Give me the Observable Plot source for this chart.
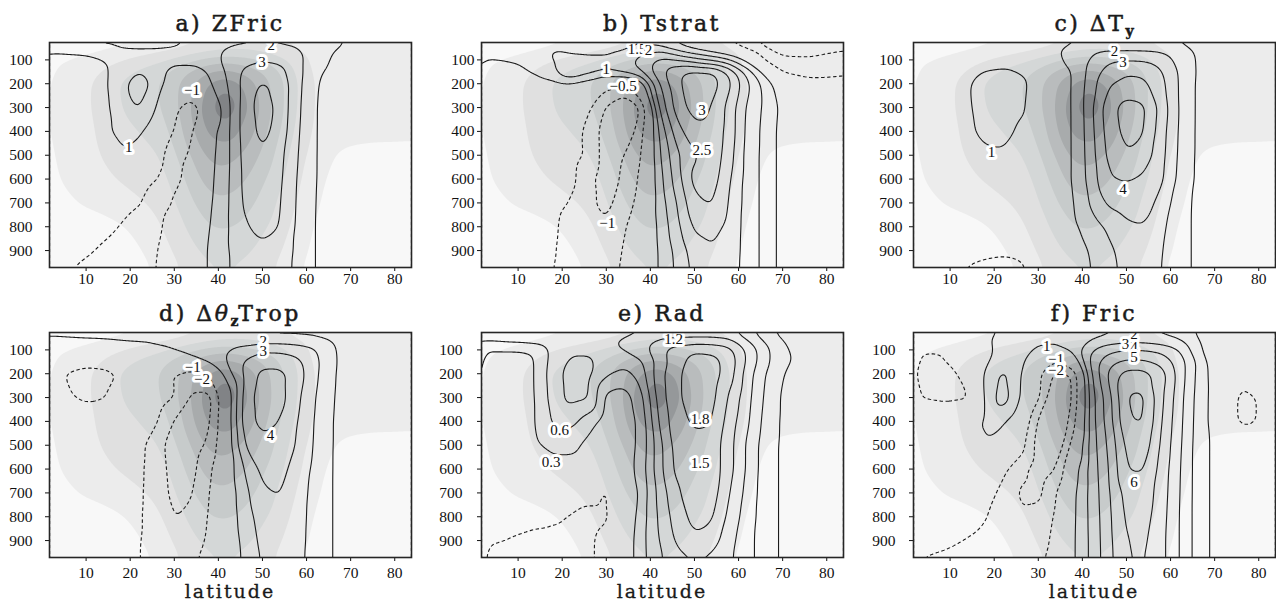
<!DOCTYPE html>
<html><head><meta charset="utf-8">
<script src="https://cdn.jsdelivr.net/npm/d3@7"></script>
<script src="https://cdn.jsdelivr.net/npm/@observablehq/plot@0.6"></script>
<style>
html,body{margin:0;padding:0;background:#fff;overflow:hidden;}
#wrap{position:relative;width:1276px;height:601px;overflow:hidden;background:#fff;}
.panel{position:absolute;}
.title{position:absolute;width:362px;text-align:center;font-family:"DejaVu Serif",serif;font-size:22px;line-height:24px;letter-spacing:2.5px;color:#1a1a1a;white-space:nowrap;-webkit-text-stroke:0.5px #1a1a1a;}
.title .sub{font-size:14px;font-weight:bold;position:relative;top:5px;letter-spacing:0;}
.title i{font-style:italic;}
.xlab{position:absolute;width:362px;text-align:center;font-family:"DejaVu Serif",serif;font-size:19px;line-height:19px;letter-spacing:2px;color:#1a1a1a;-webkit-text-stroke:0.3px #1a1a1a;}
</style></head>
<body><div id="wrap"></div>
<script>
// ---------- grid axes ----------
const lats = [2, 6, 10, 14, 18, 22, 26, 30, 34, 38, 42, 46, 50, 54, 58, 62, 66, 70, 76, 84];
const levels = [27, 60, 100, 150, 200, 300, 400, 500, 600, 700, 800, 900, 971];
const latTicks = [10, 20, 30, 40, 50, 60, 70, 80];
const pTicks = [100, 200, 300, 400, 500, 600, 700, 800, 900];

// ---------- shaded background jet (shading level units) ----------
const jetThresholds = [1, 2, 3, 4, 5, 6, 7, 8];
const jetField = [
  [0.6, 0.6, 0.6, 0.7, 0.8, 0.9, 1.1, 1.3, 1.6, 1.9, 2.1, 2.2, 2.1, 1.9, 1.6, 1.4, 1.3, 1.3, 1.3, 1.3],
  [0.7, 0.7, 0.8, 0.9, 1.1, 1.4, 1.7, 2.0, 2.4, 2.8, 3.0, 3.0, 2.8, 2.5, 2.1, 1.6, 1.4, 1.3, 1.3, 1.3],
  [0.9, 1.0, 1.2, 1.6, 2.0, 2.4, 2.8, 3.3, 3.9, 4.4, 4.6, 4.4, 3.9, 3.2, 2.5, 1.7, 1.4, 1.3, 1.3, 1.3],
  [1.0, 1.2, 1.6, 2.1, 2.7, 3.2, 3.6, 4.3, 5.2, 6.0, 6.3, 5.8, 5.0, 4.0, 2.8, 1.8, 1.4, 1.3, 1.3, 1.3],
  [1.1, 1.3, 1.8, 2.5, 3.1, 3.5, 3.9, 4.7, 5.9, 7.2, 7.8, 6.8, 5.6, 4.3, 3.0, 1.9, 1.4, 1.3, 1.3, 1.3],
  [1.1, 1.3, 1.8, 2.5, 3.0, 3.4, 3.8, 4.7, 6.1, 7.9, 8.9, 7.3, 5.8, 4.3, 2.9, 1.9, 1.4, 1.3, 1.3, 1.3],
  [1.1, 1.3, 1.7, 2.3, 2.7, 3.0, 3.4, 4.3, 5.8, 7.3, 7.7, 6.7, 5.4, 4.0, 2.7, 1.8, 1.4, 1.3, 1.25, 1.2],
  [1.0, 1.2, 1.6, 2.1, 2.4, 2.6, 2.9, 3.8, 5.1, 6.3, 6.4, 5.8, 4.8, 3.6, 2.4, 1.6, 1.0, 0.8, 0.7, 0.7],
  [0.9, 1.1, 1.4, 1.8, 2.1, 2.3, 2.5, 3.3, 4.5, 5.5, 5.6, 5.1, 4.2, 3.2, 2.2, 1.3, 0.8, 0.6, 0.5, 0.5],
  [0.8, 0.9, 1.1, 1.3, 1.6, 1.9, 2.2, 2.9, 3.9, 4.7, 4.8, 4.4, 3.7, 2.8, 1.9, 1.1, 0.7, 0.5, 0.4, 0.4],
  [0.5, 0.5, 0.6, 0.7, 0.9, 1.3, 1.8, 2.5, 3.3, 4.0, 4.1, 3.8, 3.2, 2.5, 1.6, 0.9, 0.6, 0.4, 0.3, 0.3],
  [0.4, 0.4, 0.4, 0.5, 0.6, 0.9, 1.4, 2.1, 2.8, 3.3, 3.4, 3.2, 2.7, 2.1, 1.3, 0.8, 0.5, 0.4, 0.3, 0.3],
  [0.3, 0.3, 0.3, 0.4, 0.5, 0.7, 1.1, 1.8, 2.4, 2.9, 3.0, 2.8, 2.4, 1.8, 1.1, 0.7, 0.5, 0.4, 0.3, 0.3]
];

// ---------- contour-line fields (rows = levels, cols = lats) ----------
const fieldA = [
  [2.0, 2.2, 2.3, 2.4, 2.4, 2.4, 2.3, 2.2, 1.9, 1.8, 1.8, 1.85, 1.9, 1.85, 1.8, 1.6, 1.2, 0.9, 0.7, 0.6],
  [1.0, 1.05, 1.1, 1.3, 1.85, 1.9, 1.95, 1.9, 1.75, 1.85, 2.1, 2.25, 2.3, 2.25, 2.1, 1.5, 1.0, 0.8, 0.7, 0.6],
  [0.75, 0.8, 0.85, 0.97, 1.3, 1.5, 1.4, 1.3, 1.4, 1.7, 2.2, 2.7, 2.95, 2.8, 2.3, 1.4, 0.9, 0.7, 0.6, 0.5],
  [0.6, 0.65, 0.75, 0.85, 1.45, 2.0, 1.3, 0.6, 0.5, 1.15, 2.1, 3.2, 3.5, 3.3, 2.4, 1.15, 0.8, 0.6, 0.5, 0.4],
  [0.4, 0.5, 0.7, 0.8, 1.7, 2.6, 1.6, 0.1, -0.3, 0.9, 1.95, 3.4, 4.15, 3.7, 2.3, 1.05, 0.7, 0.5, 0.4, 0.3],
  [0.3, 0.4, 0.6, 0.75, 1.5, 2.1, 1.0, -0.85, -1.4, -0.4, 1.7, 3.5, 4.5, 3.7, 2.2, 1.0, 0.6, 0.45, 0.3, 0.2],
  [0.3, 0.4, 0.5, 0.8, 1.25, 1.2, 0.3, -1.2, -1.2, 0.5, 1.75, 3.5, 4.3, 3.6, 2.1, 1.0, 0.6, 0.4, 0.2, 0.1],
  [0.3, 0.3, 0.2, 0.3, 0.9, 0.6, -0.8, -1.3, -0.9, 0.65, 1.75, 3.4, 3.95, 3.3, 2.0, 1.0, 0.6, 0.4, 0.2, 0.1],
  [0.2, 0.1, -0.1, -0.3, -0.5, -0.75, -1.05, -1.3, -0.6, 0.75, 1.8, 3.3, 3.8, 3.2, 1.9, 1.0, 0.6, 0.4, 0.2, 0.1],
  [0.1, -0.1, -0.3, -0.5, -0.75, -0.97, -1.3, -1.0, -0.1, 0.85, 1.85, 3.2, 3.6, 3.1, 1.85, 0.97, 0.6, 0.4, 0.2, 0.1],
  [-0.1, -0.3, -0.5, -0.75, -1.05, -1.3, -1.2, -0.6, 0.2, 0.97, 1.9, 2.9, 3.3, 3.0, 1.8, 0.95, 0.6, 0.4, 0.2, 0.1],
  [-0.3, -0.6, -0.85, -1.15, -1.4, -1.35, -1.05, -0.5, 0.3, 1.1, 1.95, 2.5, 2.8, 2.6, 1.8, 0.95, 0.6, 0.4, 0.2, 0.1],
  [-0.6, -0.95, -1.2, -1.3, -1.4, -1.3, -1.0, -0.5, 0.3, 1.1, 1.95, 2.4, 2.6, 2.4, 1.8, 0.95, 0.6, 0.4, 0.2, 0.1]
];
const fieldB = [
  [0.55, 0.6, 0.6, 0.6, 0.6, 0.6, 0.65, 0.7, 0.8, 0.9, 0.6, 0.3, 0.0, -0.3, -0.6, -0.9, -1.2, -1.4, -1.5, -1.3],
  [0.6, 0.65, 0.7, 0.8, 1.1, 0.9, 0.85, 0.9, 1.0, 1.3, 1.5, 1.0, 0.6, 0.3, 0.0, -0.4, -0.85, -1.15, -1.2, -1.0],
  [0.5, 0.5, 0.55, 0.7, 1.0, 1.2, 1.15, 1.1, 1.3, 1.7, 2.1, 2.0, 1.7, 1.4, 1.0, 0.3, -0.6, -0.9, -0.9, -0.7],
  [0.3, 0.35, 0.4, 0.6, 0.95, 1.6, 1.2, 1.0, 1.2, 1.55, 2.3, 2.9, 3.15, 3.1, 2.4, 1.3, 0.3, -0.55, -0.7, -0.6],
  [0.1, 0.1, 0.1, 0.2, 0.3, 0.4, 0.2, -0.3, -0.45, 0.2, 2.0, 2.9, 3.3, 3.25, 2.6, 1.6, 0.8, 0.1, -0.3, -0.3],
  [0.1, 0.05, 0.0, -0.05, -0.1, -0.2, -0.4, -1.05, -1.55, -1.0, 1.6, 2.75, 3.2, 3.0, 2.3, 1.4, 0.9, 0.35, 0.1, 0.0],
  [0.05, 0.0, -0.05, -0.1, -0.15, -0.3, -0.6, -1.3, -1.45, -0.7, 1.1, 2.3, 2.85, 2.85, 2.3, 1.35, 0.85, 0.3, 0.1, 0.0],
  [0.0, -0.05, -0.1, -0.15, -0.25, -0.35, -0.55, -1.3, -1.0, -0.55, 0.95, 1.9, 2.45, 2.85, 2.2, 1.3, 0.85, 0.3, 0.1, 0.0],
  [0.0, -0.05, -0.1, -0.2, -0.3, -0.35, -0.85, -1.3, -0.9, -0.4, 0.8, 1.75, 2.7, 2.75, 2.05, 1.3, 0.85, 0.3, 0.1, 0.0],
  [0.0, -0.05, -0.1, -0.2, -0.35, -0.52, -0.9, -1.15, -0.75, -0.3, 0.7, 1.5, 2.4, 2.55, 1.95, 1.3, 0.85, 0.3, 0.1, 0.0],
  [0.0, -0.05, -0.15, -0.25, -0.4, -0.75, -0.95, -0.95, -0.55, -0.15, 0.6, 1.35, 2.1, 2.2, 1.85, 1.3, 0.85, 0.3, 0.1, 0.0],
  [0.0, -0.05, -0.15, -0.3, -0.45, -0.75, -0.9, -0.85, -0.45, -0.1, 0.55, 1.15, 1.75, 1.95, 1.8, 1.3, 0.85, 0.3, 0.1, 0.0],
  [0.0, -0.05, -0.15, -0.3, -0.5, -0.7, -0.8, -0.75, -0.4, -0.1, 0.55, 1.1, 1.65, 1.85, 1.75, 1.3, 0.85, 0.3, 0.1, 0.0]
];
const fieldC = [
  [0.5, 0.5, 0.55, 0.6, 0.65, 0.7, 0.75, 0.8, 0.85, 0.9, 0.95, 0.95, 0.95, 0.95, 0.95, 0.9, 0.8, 0.7, 0.6, 0.5],
  [0.5, 0.55, 0.6, 0.65, 0.7, 0.75, 0.8, 0.85, 0.95, 1.3, 1.8, 2.05, 2.05, 2.0, 1.9, 1.4, 0.85, 0.7, 0.6, 0.5],
  [0.5, 0.6, 0.7, 0.75, 0.8, 0.8, 0.8, 0.8, 0.85, 1.2, 2.1, 2.8, 2.95, 2.9, 2.5, 1.7, 0.9, 0.7, 0.55, 0.45],
  [0.45, 0.55, 0.75, 0.9, 1.02, 1.08, 0.95, 0.75, 0.8, 0.95, 2.4, 3.4, 3.9, 3.8, 3.1, 1.9, 0.9, 0.65, 0.5, 0.4],
  [0.4, 0.5, 0.7, 0.95, 1.2, 1.3, 1.15, 0.75, 0.8, 0.95, 2.6, 3.9, 4.3, 4.2, 3.3, 1.9, 0.85, 0.6, 0.45, 0.35],
  [0.35, 0.45, 0.65, 0.9, 1.3, 1.4, 1.1, 0.7, 0.8, 0.95, 2.8, 4.65, 5.4, 5.2, 3.6, 1.9, 0.85, 0.55, 0.4, 0.3],
  [0.3, 0.4, 0.6, 0.85, 1.2, 1.25, 0.85, 0.7, 0.8, 0.95, 2.7, 4.5, 5.3, 5.1, 3.4, 1.85, 0.85, 0.5, 0.35, 0.25],
  [0.2, 0.3, 0.4, 0.55, 0.85, 0.9, 0.8, 0.7, 0.8, 0.95, 2.6, 4.3, 4.95, 4.6, 3.3, 1.8, 0.85, 0.5, 0.3, 0.2],
  [0.2, 0.25, 0.3, 0.35, 0.4, 0.5, 0.6, 0.7, 0.85, 0.95, 2.5, 3.95, 4.1, 3.8, 3.2, 1.7, 0.85, 0.5, 0.3, 0.2],
  [0.1, 0.1, 0.1, 0.1, 0.1, 0.15, 0.2, 0.3, 0.6, 0.9, 2.15, 3.2, 3.5, 3.5, 2.6, 1.45, 0.8, 0.5, 0.3, 0.2],
  [0.0, -0.1, -0.2, -0.3, -0.4, -0.4, -0.3, -0.1, 0.3, 0.8, 1.5, 2.2, 2.8, 2.95, 2.2, 1.4, 0.8, 0.5, 0.3, 0.2],
  [-0.2, -0.4, -0.6, -0.75, -0.85, -0.9, -0.85, -0.6, -0.1, 0.5, 1.1, 1.8, 2.4, 2.6, 2.05, 1.4, 0.8, 0.5, 0.3, 0.2],
  [-0.3, -0.6, -0.9, -1.05, -1.15, -1.2, -1.1, -0.8, -0.3, 0.4, 1.0, 1.7, 2.3, 2.5, 2.0, 1.4, 0.8, 0.5, 0.3, 0.2]
];
const fieldD = [
  [1.25, 1.3, 1.35, 1.35, 1.35, 1.3, 1.25, 1.15, 1.05, 0.95, 0.85, 0.75, 0.7, 0.7, 0.7, 0.65, 0.55, 0.45, 0.3, 0.2],
  [0.8, 0.85, 0.9, 0.95, 1.05, 1.1, 1.15, 1.2, 1.25, 1.3, 1.35, 1.45, 1.5, 1.5, 1.45, 1.35, 0.95, 0.5, 0.3, 0.2],
  [0.1, 0.15, 0.2, 0.3, 0.45, 0.6, 0.85, 1.05, 1.3, 1.6, 1.95, 2.4, 2.9, 2.85, 2.55, 2.1, 1.1, 0.5, 0.3, 0.2],
  [-0.2, -0.4, -0.6, -0.5, -0.2, 0.0, 0.1, 0.3, 0.7, 1.3, 2.0, 3.1, 3.6, 3.6, 3.3, 2.3, 1.1, 0.6, 0.3, 0.2],
  [-0.5, -1.15, -1.45, -1.35, -0.9, -0.4, -0.5, -1.05, -1.7, -1.0, 1.6, 3.2, 4.3, 4.3, 3.5, 2.2, 1.05, 0.6, 0.3, 0.2],
  [-0.3, -0.9, -1.2, -1.05, -0.5, -0.3, -0.5, -0.95, -2.2, -2.4, 0.2, 3.5, 4.5, 4.4, 3.2, 2.0, 1.0, 0.6, 0.3, 0.2],
  [0.0, -0.1, -0.2, -0.3, -0.4, -0.6, -0.85, -2.1, -2.6, -2.2, 0.3, 3.6, 4.3, 4.0, 3.0, 1.9, 0.95, 0.6, 0.3, 0.2],
  [0.0, -0.1, -0.2, -0.35, -0.5, -0.7, -1.6, -2.5, -2.45, -1.8, 0.3, 3.1, 3.75, 3.65, 2.9, 1.85, 0.95, 0.6, 0.3, 0.2],
  [-0.05, -0.15, -0.3, -0.45, -0.6, -0.8, -1.5, -2.4, -2.3, -1.2, 0.3, 2.1, 3.3, 3.3, 2.6, 1.75, 0.95, 0.6, 0.3, 0.2],
  [-0.1, -0.25, -0.4, -0.55, -0.7, -0.85, -1.45, -2.3, -2.1, -1.0, 0.25, 1.7, 2.9, 3.05, 2.4, 1.7, 0.95, 0.6, 0.3, 0.2],
  [-0.15, -0.3, -0.45, -0.6, -0.75, -0.9, -1.4, -2.05, -1.8, -0.9, 0.3, 1.5, 2.5, 2.75, 2.3, 1.7, 0.95, 0.6, 0.3, 0.2],
  [-0.2, -0.35, -0.5, -0.65, -0.8, -0.95, -1.3, -1.6, -1.5, -0.8, 0.3, 1.3, 2.3, 2.6, 2.25, 1.7, 0.95, 0.6, 0.3, 0.2],
  [-0.2, -0.35, -0.5, -0.7, -0.85, -0.97, -1.2, -1.3, -1.2, -0.6, 0.3, 1.2, 2.15, 2.5, 2.2, 1.7, 0.95, 0.6, 0.3, 0.2]
];
const fieldE = [
  [0.85, 0.85, 0.85, 0.85, 0.85, 0.8, 0.75, 0.7, 0.75, 0.85, 0.95, 1.0, 1.0, 1.0, 0.95, 0.7, 0.4, 0.2, 0.1, 0.05],
  [0.6, 0.65, 0.7, 0.75, 0.8, 0.8, 0.8, 0.85, 1.0, 1.15, 1.25, 1.3, 1.3, 1.3, 1.25, 0.9, 0.55, 0.3, 0.15, 0.1],
  [0.3, 0.3, 0.3, 0.35, 0.7, 0.85, 0.85, 0.8, 0.9, 1.1, 1.4, 1.65, 1.8, 1.75, 1.6, 1.15, 0.7, 0.35, 0.15, 0.1],
  [0.15, 0.15, 0.15, 0.3, 0.75, 0.95, 0.95, 0.75, 0.7, 0.85, 1.3, 1.7, 1.9, 1.9, 1.7, 1.15, 0.7, 0.35, 0.2, 0.1],
  [0.1, 0.1, 0.15, 0.3, 0.8, 1.0, 0.98, 0.65, 0.5, 0.75, 1.4, 1.75, 1.95, 1.95, 1.65, 1.05, 0.6, 0.3, 0.15, 0.1],
  [0.05, 0.05, 0.1, 0.3, 0.75, 1.0, 0.95, 0.2, 0.15, 0.5, 1.35, 1.75, 1.95, 1.9, 1.45, 1.0, 0.55, 0.25, 0.15, 0.1],
  [0.05, 0.05, 0.1, 0.3, 0.65, 0.7, 0.45, 0.15, 0.1, 0.4, 1.25, 1.7, 1.85, 1.82, 1.35, 0.95, 0.5, 0.25, 0.15, 0.1],
  [0.0, 0.05, 0.1, 0.25, 0.4, 0.4, 0.2, 0.05, 0.1, 0.4, 1.1, 1.65, 1.72, 1.68, 1.3, 0.85, 0.45, 0.25, 0.15, 0.1],
  [0.05, 0.05, 0.05, 0.1, 0.15, 0.15, 0.1, 0.0, 0.1, 0.45, 1.1, 1.6, 1.72, 1.68, 1.3, 0.85, 0.45, 0.25, 0.15, 0.1],
  [0.0, 0.0, -0.05, -0.05, -0.1, -0.15, -0.2, -0.35, -0.1, 0.4, 1.0, 1.45, 1.7, 1.65, 1.2, 0.8, 0.45, 0.25, 0.15, 0.1],
  [-0.05, -0.1, -0.15, -0.2, -0.25, -0.32, -0.4, -0.35, 0.0, 0.45, 0.95, 1.35, 1.6, 1.55, 1.1, 0.75, 0.45, 0.25, 0.15, 0.1],
  [-0.2, -0.28, -0.35, -0.4, -0.4, -0.4, -0.35, -0.2, 0.05, 0.5, 0.9, 1.25, 1.45, 1.35, 1.0, 0.7, 0.45, 0.25, 0.15, 0.1],
  [-0.5, -0.5, -0.5, -0.45, -0.4, -0.4, -0.35, -0.2, 0.05, 0.5, 0.85, 1.1, 1.2, 1.15, 0.95, 0.7, 0.45, 0.25, 0.15, 0.1]
];
const fieldF = [
  [0.3, 0.3, 0.4, 0.6, 0.9, 1.05, 1.1, 1.1, 1.1, 1.2, 1.5, 1.8, 1.9, 1.9, 1.8, 1.5, 0.9, 0.3, 0.0, 0.0],
  [0.2, 0.1, 0.2, 0.5, 0.95, 1.1, 1.3, 1.2, 1.15, 1.4, 2.0, 2.4, 2.6, 2.6, 2.4, 2.1, 1.1, 0.3, 0.0, 0.0],
  [-0.8, -1.05, -1.0, -0.4, 0.7, 1.3, 1.3, 0.85, 0.8, 1.4, 2.9, 3.7, 4.05, 4.0, 3.7, 3.0, 1.3, 0.3, 0.0, 0.0],
  [-1.1, -1.15, -0.9, -0.2, 0.9, 1.4, 1.2, 0.2, -1.2, 0.0, 3.3, 4.6, 5.2, 5.15, 4.7, 3.6, 1.9, 0.35, -0.2, -0.1],
  [-1.4, -1.45, -1.3, -0.5, 1.2, 2.3, 1.1, -0.8, -2.3, -2.0, 3.0, 5.2, 6.4, 6.4, 5.5, 3.6, 1.8, 0.5, -0.6, -0.3],
  [-0.95, -1.15, -1.3, -1.2, 1.2, 2.6, 1.0, -0.8, -3.2, -2.0, 2.6, 4.6, 7.1, 7.2, 5.2, 3.4, 1.7, 0.6, -1.3, -0.6],
  [0.0, 0.1, 0.4, 0.75, 1.15, 1.15, 0.2, -2.2, -3.1, -1.5, 2.6, 4.5, 6.9, 7.1, 5.0, 3.3, 1.65, 0.6, -1.3, -0.6],
  [-0.05, 0.0, 0.1, 0.4, 0.95, 0.6, -0.5, -2.5, -2.95, -0.5, 2.5, 4.2, 6.3, 6.6, 4.8, 3.2, 1.6, 0.75, 0.3, 0.1],
  [-0.1, -0.15, -0.25, -0.35, -0.5, -0.75, -1.7, -2.5, -2.1, 0.5, 2.4, 4.0, 6.05, 6.1, 4.6, 3.1, 1.6, 0.75, 0.3, 0.1],
  [-0.2, -0.25, -0.35, -0.5, -0.75, -1.15, -2.2, -2.3, -1.1, 0.8, 2.3, 3.9, 5.4, 5.6, 4.5, 3.05, 1.6, 0.75, 0.3, 0.1],
  [-0.3, -0.4, -0.5, -0.65, -0.95, -1.4, -1.95, -1.7, -0.9, 0.85, 2.25, 3.8, 5.2, 5.4, 4.4, 3.0, 1.6, 0.75, 0.3, 0.1],
  [-0.6, -0.7, -0.85, -1.05, -1.25, -1.45, -1.7, -1.5, -0.7, 0.9, 2.2, 3.75, 5.0, 5.2, 4.3, 3.0, 1.6, 0.75, 0.3, 0.1],
  [-1.0, -1.1, -1.2, -1.3, -1.4, -1.5, -1.5, -1.2, -0.6, 0.9, 2.2, 3.7, 4.95, 5.1, 4.3, 3.0, 1.6, 0.75, 0.3, 0.1]
];

// ---------- contour levels ----------
const levelsA = [-2, -1, 1, 2, 3, 4];
const levelsB = [-1.5, -1, -0.5, 0.5, 1, 1.5, 2, 2.5, 3, 3.5];
const levelsC = [-1, 1, 2, 3, 4, 5];
const levelsD = [-3, -2, -1, 1, 2, 3, 4, 5];
const levelsE = [-0.6, -0.3, 0.3, 0.6, 0.9, 1.2, 1.5, 1.8, 2.1];
const levelsF = [-3, -2, -1, 1, 2, 3, 4, 5, 6, 7];

// ---------- contour labels: latitude, pressure, text ----------
const labelsA = [[52, 40, "2"], [49.9, 109, "3"], [34, 228, "−1"], [19.7, 466, "1"]];
const labelsB = [[37.0, 54, "1.5"], [39.6, 60, "2"], [30, 140, "1"], [33.8, 210, "−0.5"], [51.7, 312, "3"], [51.7, 480, "2.5"], [30.2, 787, "−1"]];
const labelsC = [[47.1, 28, "1"], [47.3, 62, "2"], [49.2, 109, "3"], [19.4, 487, "1"], [49.2, 641, "4"]];
const labelsD = [[50.2, 62, "2"], [50.2, 104, "3"], [34.2, 173, "−1"], [36.3, 222, "−2"], [51.8, 458, "4"]];
const labelsE = [[45.3, 55, "1.2"], [19.4, 438, "0.6"], [17.5, 570, "0.3"], [51.3, 389, "1.8"], [51.3, 577, "1.5"]];
const labelsF = [[31.9, 83, "1"], [34, 138, "−1"], [34, 184, "−2"], [51.7, 36, "2"], [49.8, 76, "3"], [51.7, 90, "4"], [51.7, 130, "5"], [51.7, 653, "6"]];

// ---------- titles ----------
const titleTexts = ["a) ZFric", "b) Tstrat", "c) ΔT|y", "d) Δθ|zTrop", "e) Rad", "f) Fric"];
const xAxisLabel = "latitude";

// ---------- build ----------
function toPoints(field) {
  const out = [];
  field.forEach((row, j) => row.forEach((v, i) => out.push({lat: lats[i], p: levels[j], v})));
  return out;
}
function toLabels(arr) { return arr.map(([lat, p, t]) => ({lat, p, t})); }

const jetPts = toPoints(jetField);
const jetColors = ["#ececec", "#e0e0e0", "#d4d7d7", "#c7cbcb", "#b9bcbd", "#a8abac", "#95989a", "#818386"];

const panels = [
  {field: fieldA, lv: levelsA, labels: labelsA, fx: 49, fy: 42, ypad: 13, xpad: 1},
  {field: fieldB, lv: levelsB, labels: labelsB, fx: 481, fy: 42, ypad: 3, xpad: 1},
  {field: fieldC, lv: levelsC, labels: labelsC, fx: 913, fy: 42, ypad: 7, xpad: 1},
  {field: fieldD, lv: levelsD, labels: labelsD, fx: 49, fy: 332, ypad: 13, xpad: 5},
  {field: fieldE, lv: levelsE, labels: labelsE, fx: 481, fy: 332, ypad: 15, xpad: 5},
  {field: fieldF, lv: levelsF, labels: labelsF, fx: 913, fy: 332, ypad: 14, xpad: 5}
];

const wrap = document.getElementById("wrap");
const ML = 50, MR = 4, MT = 4, MB = 28, FW = 362, FH = 225;

function titleHTML(s) {
  let html = "";
  for (let i = 0; i < s.length; i++) {
    const ch = s[i];
    if (ch === "|") { html += `<span class="sub">${s[i + 1]}</span>`; i++; }
    else if (ch === "θ") html += "<i>θ</i>";
    else html += ch;
  }
  return html;
}

panels.forEach((cfg, k) => {
  const pts = toPoints(cfg.field);
  const pos = cfg.lv.filter(d => d > 0);
  const neg = cfg.lv.filter(d => d < 0);
  const svg = Plot.plot({
    width: ML + FW + MR,
    height: MT + FH + MB,
    marginLeft: ML, marginRight: MR, marginTop: MT, marginBottom: MB,
    x: {domain: [1.7, 83.8], ticks: latTicks, tickSize: 4, tickPadding: cfg.xpad, label: null, tickFormat: d => String(d)},
    y: {domain: [27, 971], reverse: true, ticks: pTicks, tickSize: 4, tickPadding: cfg.ypad, label: null, tickFormat: d => String(d)},
    color: {type: "ordinal", domain: jetThresholds, range: jetColors},
    style: {fontFamily: '"Liberation Serif", serif', fontSize: "15.5px", color: "#111", background: "transparent"},
    marks: [
      Plot.frame({fill: "#f8f8f8", stroke: "none"}),
      Plot.contour(jetPts, {x: "lat", y: "p", fill: "v", thresholds: jetThresholds, interpolate: "barycentric", pixelSize: 1, blur: 6, stroke: "none", clip: true}),
      Plot.contour(pts, {x: "lat", y: "p", value: "v", thresholds: pos, interpolate: "barycentric", pixelSize: 1, blur: 4, fill: "none", stroke: "#1b1b1b", strokeWidth: 1.1, clip: true}),
      Plot.contour(pts, {x: "lat", y: "p", value: "v", thresholds: neg, interpolate: "barycentric", pixelSize: 1, blur: 4, fill: "none", stroke: "#1b1b1b", strokeWidth: 1.1, strokeDasharray: "3.5,2.5", clip: true}),
      Plot.text(toLabels(cfg.labels), {x: "lat", y: "p", text: "t", fill: "#111", stroke: "white", strokeWidth: 6, fontSize: 15, fontFamily: '"Liberation Serif", serif', clip: true}),
      Plot.frame({stroke: "#262626", strokeWidth: 1.6})
    ]
  });
  svg.classList.add("panel");
  svg.style.left = (cfg.fx - ML) + "px";
  svg.style.top = (cfg.fy - MT) + "px";
  wrap.appendChild(svg);

  const t = document.createElement("div");
  t.className = "title";
  t.style.left = cfg.fx + "px";
  t.style.top = (cfg.fy - 30) + "px";
  t.innerHTML = titleHTML(titleTexts[k]);
  wrap.appendChild(t);

  if (k >= 3) {
    const xl = document.createElement("div");
    xl.className = "xlab";
    xl.style.left = cfg.fx + "px";
    xl.style.top = "582px";
    xl.textContent = xAxisLabel;
    wrap.appendChild(xl);
  }
});
</script>
</body></html>
